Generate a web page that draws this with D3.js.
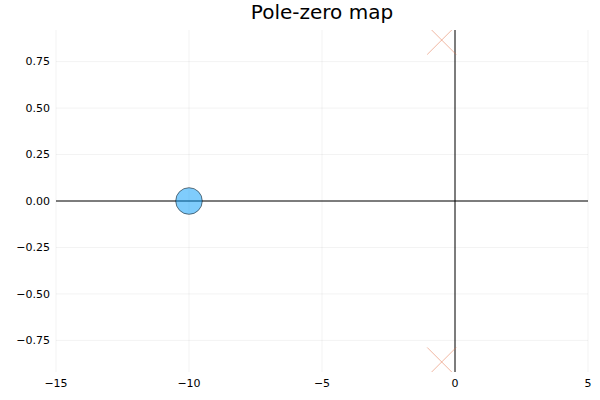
<!DOCTYPE html>
<html><head><meta charset="utf-8">
<script src="https://cdn.jsdelivr.net/npm/d3@7"></script>
<style>body{margin:0;background:#fff}</style>
</head><body>
<svg id="c" width="600" height="400"></svg>
<script>
const zerosRe = [-10];
const zerosIm = [0];
const polesRe = [-0.5, -0.5];
const polesIm = [0.866, -0.866];
const xTicks = [-15, -10, -5, 0, 5];
const yTicks = [-0.75, -0.5, -0.25, 0, 0.25, 0.5, 0.75];
const title = "Pole-zero map";

const svg = d3.select("#c");
const L = 56, R = 588, T = 30, B = 372;
const x = d3.scaleLinear().domain([-15, 5]).range([L, R]);
const y = d3.scaleLinear().domain([-0.92, 0.92]).range([B, T]);
const font = "'DejaVu Sans', sans-serif";

svg.append("defs").append("clipPath").attr("id", "clip")
  .append("rect").attr("x", L).attr("y", T).attr("width", R - L).attr("height", B - T);

// grid
const g = svg.append("g");
g.selectAll(".gx").data(xTicks).enter().append("line")
  .attr("x1", d => x(d)).attr("x2", d => x(d)).attr("y1", T).attr("y2", B)
  .attr("stroke", "#000").attr("stroke-opacity", 0.05).attr("stroke-width", 1);
g.selectAll(".gy").data(yTicks).enter().append("line")
  .attr("y1", d => y(d)).attr("y2", d => y(d)).attr("x1", L).attr("x2", R)
  .attr("stroke", "#000").attr("stroke-opacity", 0.05).attr("stroke-width", 1);

// tick labels
const fmtY = d3.format(".2f");
svg.selectAll(".tx").data(xTicks).enter().append("text")
  .attr("x", d => x(d)).attr("y", 387).attr("text-anchor", "middle")
  .attr("font-family", font).attr("font-size", 11).attr("fill", "#000")
  .text(d => d < 0 ? "\u2212" + Math.abs(d) : String(d));
svg.selectAll(".ty").data(yTicks).enter().append("text")
  .attr("x", 50).attr("y", d => y(d)).attr("dy", "0.35em").attr("text-anchor", "end")
  .attr("font-family", font).attr("font-size", 11).attr("fill", "#000")
  .text(d => d < 0 ? "\u2212" + fmtY(Math.abs(d)) : fmtY(d));

// zero lines
svg.append("line").attr("x1", L).attr("x2", R).attr("y1", y(0)).attr("y2", y(0))
  .attr("stroke", "#000").attr("stroke-width", 1);
svg.append("line").attr("x1", x(0)).attr("x2", x(0)).attr("y1", T).attr("y2", B)
  .attr("stroke", "#000").attr("stroke-width", 1);

const plot = svg.append("g").attr("clip-path", "url(#clip)");

// zeros
plot.selectAll(".z").data(zerosRe).enter().append("circle")
  .attr("cx", d => x(d)).attr("cy", (d, i) => y(zerosIm[i])).attr("r", 13.3)
  .attr("fill", "#009af9").attr("fill-opacity", 0.5)
  .attr("stroke", "#000").attr("stroke-opacity", 0.5).attr("stroke-width", 1);

// poles
const s = 14.5;
polesRe.forEach((re, i) => {
  const cx = x(re), cy = y(polesIm[i]);
  plot.append("path")
    .attr("d", `M${cx - s},${cy - s}L${cx + s},${cy + s}M${cx + s},${cy - s}L${cx - s},${cy + s}`)
    .attr("stroke", "#e26f46").attr("stroke-opacity", 0.5).attr("stroke-width", 1).attr("fill", "none");
});

svg.append("text").attr("x", 322).attr("y", 19).attr("text-anchor", "middle")
  .attr("font-family", font).attr("font-size", 20).attr("fill", "#000").text(title);
</script>
</body></html>
